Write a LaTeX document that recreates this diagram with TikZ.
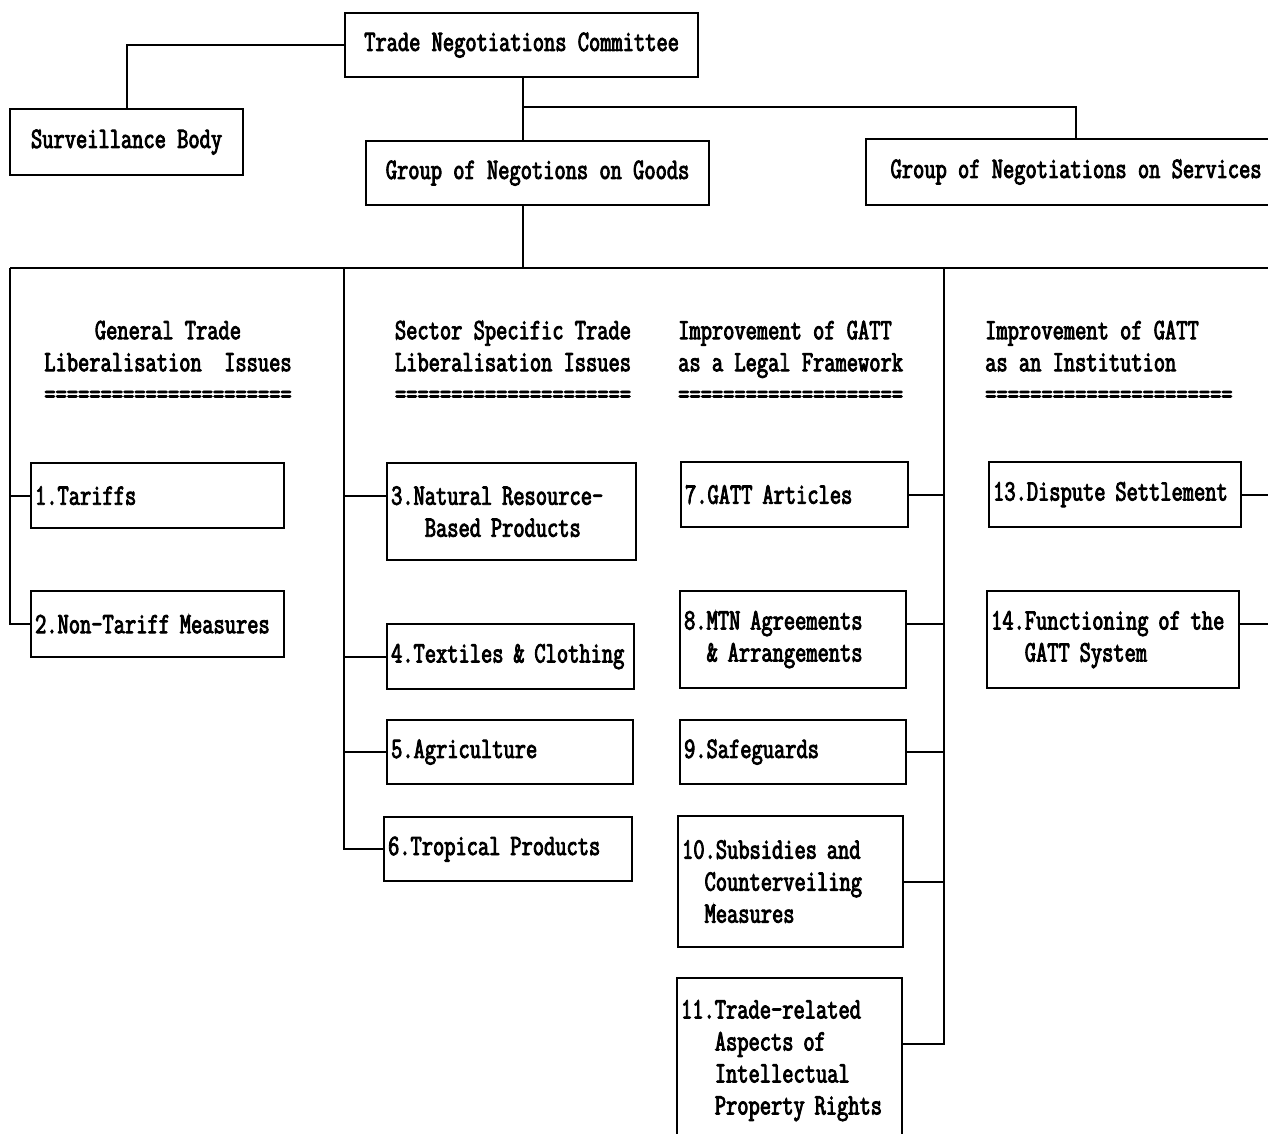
\documentclass[tikz,border=0pt]{standalone}
\usepackage{fontspec}
\setmainfont{Latin Modern Mono}[FakeStretch=0.74,FakeBold=3]
\begin{document}
\begin{tikzpicture}[x=1pt,y=-1pt,
  font=\fontsize{29.5}{32}\selectfont,
  box/.style={draw,line width=2.2pt,anchor=north west,inner xsep=4pt,inner ysep=0pt,align=left},
  cbox/.style={draw,line width=2.2pt,anchor=north west,inner sep=0pt,align=center},
  head/.style={inner sep=0pt},
  conn/.style={line width=1.9pt}]
\useasboundingbox (0,0) rectangle (1268,1133);
\fill[white] (0,0) rectangle (1268,1133);
% top level
\node[cbox,minimum width=353pt,minimum height=64pt] (tnc) at (344,12) {Trade Negotiations Committee};
\node[cbox,minimum width=233pt,minimum height=66pt] (surv) at (9,108) {Surveillance Body};
\node[cbox,minimum width=343pt,minimum height=64pt] (goods) at (365,140) {Group of Negotions on Goods};
\node[cbox,minimum width=420pt,minimum height=66pt] (serv) at (865,138) {Group of Negotiations on Services};
% headings
\node[head,align=center] (h1) at (168,362) {General Trade\\Liberalisation\ \ Issues\\======================};
\node[head,align=center] (h2) at (513,362) {Sector Specific Trade\\Liberalisation Issues\\=====================};
\node[head,align=left,anchor=west] (h3) at (678,362) {Improvement of GATT\\as a Legal Framework\\====================};
\node[head,align=left,anchor=west] (h4) at (985,362) {Improvement of GATT\\as an Institution\\======================};
% boxes
\node[box,text width=245pt,minimum height=65pt] (n1) at (30,462) {1.Tariffs};
\node[box,text width=245pt,minimum height=66pt] (n2) at (30,590) {2.Non-Tariff Measures};
\node[box,text width=241pt,minimum height=97pt] (n3) at (386,462) {3.Natural Resource-\\\phantom{Bas}Based Products};
\node[box,text width=239pt,minimum height=65pt] (n4) at (386,623) {4.Textiles \& Clothing};
\node[box,text width=238pt,minimum height=64pt] (n5) at (386,719) {5.Agriculture};
\node[box,text width=240pt,minimum height=64pt] (n6) at (383,816) {6.Tropical Products};
\node[box,text width=219pt,minimum height=65pt] (n7) at (680,461) {7.GATT Articles};
\node[box,text width=218pt,minimum height=97pt] (n8) at (679,590) {8.MTN Agreements\\\phantom{8.}\& Arrangements};
\node[box,text width=218pt,minimum height=64pt] (n9) at (679,719) {9.Safeguards};
\node[box,text width=217pt,minimum height=131pt] (n10) at (677,815) {10.Subsidies and\\\phantom{10}Counterveiling\\\phantom{10}Measures};
\node[box,text width=217pt,minimum height=165pt] (n11) at (676,977) {11.Trade-related\\\phantom{11.}Aspects of\\\phantom{11.}Intellectual\\\phantom{11.}Property Rights};
\node[box,text width=244pt,minimum height=65pt] (n13) at (988,461) {13.Dispute Settlement};
\node[box,text width=244pt,minimum height=97pt] (n14) at (986,590) {14.Functioning of the\\\phantom{14.}GATT System};
% coordinates
\coordinate (busL) at (10,268);
\coordinate (busR) at (1280,268);
\coordinate (c1) at (10,268);
\coordinate (c2) at (344,268);
\coordinate (c3) at (944,268);
\coordinate (c4) at (1280,268);
\coordinate (br) at (523,107);
% connectors
\draw[conn] (tnc.west) -| (surv.north);
\draw[conn] (tnc.south -| br) -- (goods.north -| br);
\draw[conn] (br) -| (serv.north);
\draw[conn] (goods.south -| br) -- (br |- busL);
\draw[conn] (busL) -- (busR);
\draw[conn] (c1) |- (n2.west);
\draw[conn] (n1.west) -- (n1.west -| c1);
\draw[conn] (c2) |- (n6.west);
\draw[conn] ([yshift=16pt]n3.west) -- ([yshift=16pt]n3.west -| c2);
\draw[conn] (n4.west) -- (n4.west -| c2);
\draw[conn] (n5.west) -- (n5.west -| c2);
\draw[conn] (c3) |- ([yshift=17pt]n11.east);
\draw[conn] (n7.east) -- (n7.east -| c3);
\draw[conn] ([yshift=16pt]n8.east) -- ([yshift=16pt]n8.east -| c3);
\draw[conn] (n9.east) -- (n9.east -| c3);
\draw[conn] (n10.east) -- (n10.east -| c3);
\draw[conn] (c4) |- ([yshift=16pt]n14.east);
\draw[conn] (n13.east) -- (n13.east -| c4);
\end{tikzpicture}
\end{document}
